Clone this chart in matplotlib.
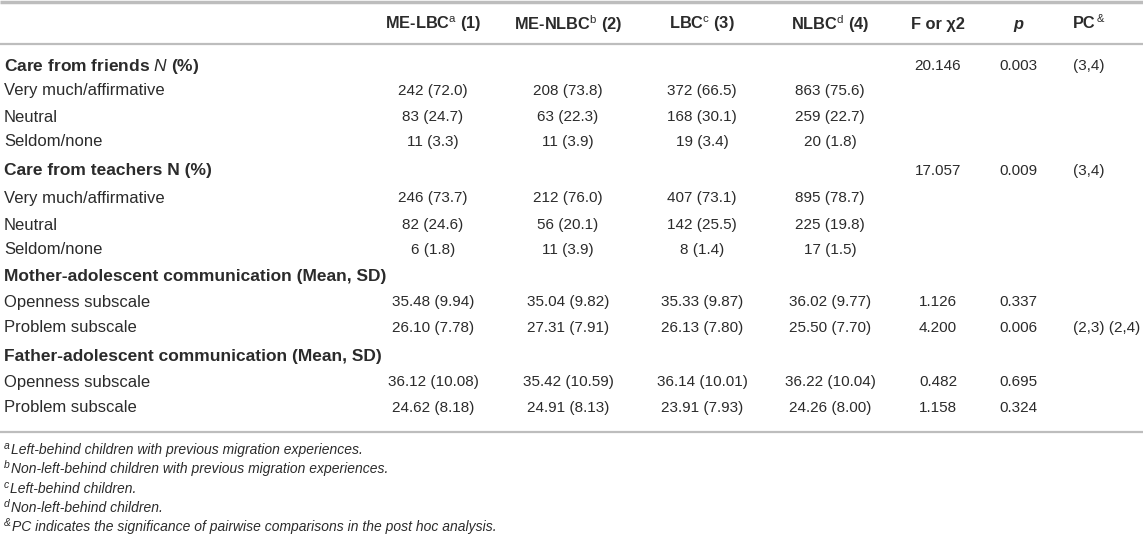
import matplotlib.pyplot as plt

plt.rcParams['font.family'] = ['Liberation Sans', 'DejaVu Sans']
plt.rcParams['mathtext.fontset'] = 'custom'
plt.rcParams['mathtext.rm'] = 'Liberation Sans'
plt.rcParams['mathtext.it'] = 'Liberation Sans:italic'
plt.rcParams['mathtext.bf'] = 'Liberation Sans:bold'

# table content
headers = [r'ME-LBC$^{\mathrm{a}}$ (1)', r'ME-NLBC$^{\mathrm{b}}$ (2)',
           r'LBC$^{\mathrm{c}}$ (3)', r'NLBC$^{\mathrm{d}}$ (4)',
           'F or χ2', 'p', 'PC']

row_labels = [
    r'$\mathbf{Care\ from\ friends}$ $\mathit{N}$ (%)',
    'Very much/affirmative', 'Neutral', 'Seldom/none',
    'Care from teachers N (%)',
    'Very much/affirmative', 'Neutral', 'Seldom/none',
    'Mother-adolescent communication (Mean, SD)',
    'Openness subscale', 'Problem subscale',
    'Father-adolescent communication (Mean, SD)',
    'Openness subscale', 'Problem subscale',
]
bold_rows = [4, 8, 11]

me_lbc = ['', '242 (72.0)', '83 (24.7)', '11 (3.3)', '', '246 (73.7)', '82 (24.6)', '6 (1.8)',
          '', '35.48 (9.94)', '26.10 (7.78)', '', '36.12 (10.08)', '24.62 (8.18)']
me_nlbc = ['', '208 (73.8)', '63 (22.3)', '11 (3.9)', '', '212 (76.0)', '56 (20.1)', '11 (3.9)',
           '', '35.04 (9.82)', '27.31 (7.91)', '', '35.42 (10.59)', '24.91 (8.13)']
lbc = ['', '372 (66.5)', '168 (30.1)', '19 (3.4)', '', '407 (73.1)', '142 (25.5)', '8 (1.4)',
       '', '35.33 (9.87)', '26.13 (7.80)', '', '36.14 (10.01)', '23.91 (7.93)']
nlbc = ['', '863 (75.6)', '259 (22.7)', '20 (1.8)', '', '895 (78.7)', '225 (19.8)', '17 (1.5)',
        '', '36.02 (9.77)', '25.50 (7.70)', '', '36.22 (10.04)', '24.26 (8.00)']
f_chi = ['20.146', '', '', '', '17.057', '', '', '', '', '1.126', '4.200', '', '0.482', '1.158']
p_val = ['0.003', '', '', '', '0.009', '', '', '', '', '0.337', '0.006', '', '0.695', '0.324']
pc = ['(3,4)', '', '', '', '(3,4)', '', '', '', '', '', '(2,3) (2,4)', '', '', '']

foot_marks = ['a', 'b', 'c', 'd', '&']
footnotes = [
    'Left-behind children with previous migration experiences.',
    'Non-left-behind children with previous migration experiences.',
    'Left-behind children.',
    'Non-left-behind children.',
    'PC indicates the significance of pairwise comparisons in the post hoc analysis.',
]

W, H = 1143, 540
fig = plt.figure(figsize=(W / 100, H / 100), dpi=100)
ax = fig.add_axes([0, 0, 1, 1])
ax.set_xlim(0, W)
ax.set_ylim(H, 0)
ax.axis('off')
renderer = fig.canvas.get_renderer()

txt = '#2b2b2b'
fs_lab = 12
fs_bold = 12.5
fs_num = 11
fs_head = 11.8
line_c = '#bdbdbd'

row_y = [66, 91, 117, 142, 171, 198, 225, 250, 277, 302, 328, 356, 382, 408]
col_x = [433, 568, 702, 830, 938, 1018, 1073]
col_ha = ['center', 'center', 'center', 'center', 'center', 'center', 'left']

for x, h, ha in zip(col_x, headers, col_ha):
    style = 'italic' if h == 'p' else 'normal'
    t = ax.text(x, 24, h, ha=ha, va='center', fontsize=fs_head, fontweight='bold',
                fontstyle=style, color=txt)
    if h == 'PC':
        bb = t.get_window_extent(renderer)
        ax.text(bb.x1 + 1, 19, '&', ha='left', va='center', fontsize=8, color=txt)

for i, lab in enumerate(row_labels):
    bold = i in bold_rows or i == 0
    ax.text(4, row_y[i], lab, ha='left', va='center',
            fontsize=fs_bold if bold else fs_lab,
            fontweight='bold' if bold else 'normal', color=txt)

for col, x, ha in zip([me_lbc, me_nlbc, lbc, nlbc, f_chi, p_val, pc], col_x, col_ha):
    for y, v in zip(row_y, col):
        if v:
            ax.text(x, y, v, ha=ha, va='center', fontsize=fs_num, color=txt)

for y, lw in [(2, 2.5), (44, 1.6), (432, 1.6)]:
    ax.plot([0, W], [y, y], color=line_c, lw=lw, solid_capstyle='butt')

foot_y = [450, 469, 489, 508, 527]
for y, m, f in zip(foot_y, foot_marks, footnotes):
    t = ax.text(4, y - 4, m, ha='left', va='center', fontsize=7.5, fontstyle='italic', color=txt)
    bb = t.get_window_extent(renderer)
    ax.text(bb.x1 + 1, y, f, ha='left', va='center', fontsize=10, fontstyle='italic', color=txt)

fig.savefig('out.png', dpi=100)
